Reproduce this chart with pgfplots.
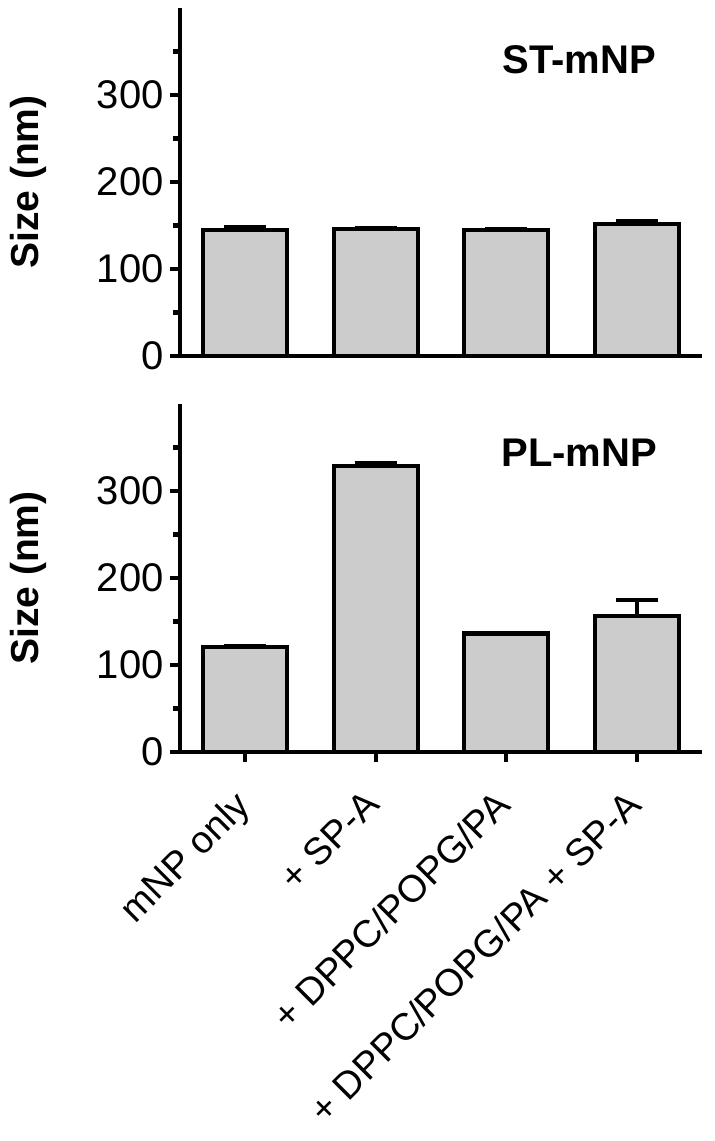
\documentclass[border=0pt]{standalone}
\usepackage{fontspec}
\setmainfont{Liberation Sans}
\usepackage{pgfplots}
\pgfplotsset{compat=1.18}

\pgfplotstableread{
x y e
0 145 3
1 146 1
2 145 0.5
3 152 3
}\toptable
\pgfplotstableread{
x y e
0 121 1
1 329 3.5
2 136 1
3 156 19
}\bottable

\pgfplotsset{
  panel/.style={
    scale only axis, width=261pt, height=174pt,
    xmin=-0.5, xmax=3.5, ymin=0, ymax=400,
    axis x line*=bottom, axis y line*=left,
    axis line style={line width=2.2pt, -},
    ytick={0,100,200,300}, minor ytick={50,150,250,350},
    tick align=outside, major tick length=5pt, minor tick length=3.5pt,
    major tick style={line width=2.2pt, black},
    minor tick style={line width=2.2pt, black},
    /pgf/number format/assume math mode=true,
    ticklabel style={font=\fontsize{20}{24}\selectfont},
    yticklabel style={inner sep=1pt, xshift=-2pt},
    ylabel={Size (nm)},
    ylabel style={font=\fontsize{19.5}{22}\selectfont\bfseries, at={(axis description cs:-0.29,0.5)}, anchor=center, rotate=0},
    clip=false,
  },
  bars/.style={
    ybar, bar width=42pt, fill=gray!40, draw=black, line width=2.2pt,
    error bars/.cd, y dir=plus, y explicit,
    error bar style={line width=2.2pt, black},
    error mark options={rotate=90, mark size=10.5pt, line width=2.2pt, black},
  },
}

\begin{document}
\begin{tikzpicture}
\path[use as bounding box] (-90pt,-392.5pt) rectangle (267.5pt,178pt);
\begin{axis}[panel, xtick=\empty]
\addplot[bars] table[x=x, y=y, y error=e] {\toptable};
\node[font=\fontsize{20}{24}\selectfont\bfseries] at (axis cs:2.56,340) {ST-mNP};
\end{axis}
\begin{axis}[panel, at={(0,-198pt)},
  xtick={0,1,2,3},
  xticklabels={mNP only, + SP-A, + DPPC/POPG/PA, + DPPC/POPG/PA + SP-A},
  xticklabel style={font=\fontsize{19}{23}\selectfont, xshift=-6.5pt, yshift=-10pt, rotate=45, anchor=north east, inner sep=2pt},
  ]
\addplot[bars] table[x=x, y=y, y error=e] {\bottable};
\node[font=\fontsize{20}{24}\selectfont\bfseries] at (axis cs:2.56,344) {PL-mNP};
\end{axis}
\end{tikzpicture}
\end{document}
